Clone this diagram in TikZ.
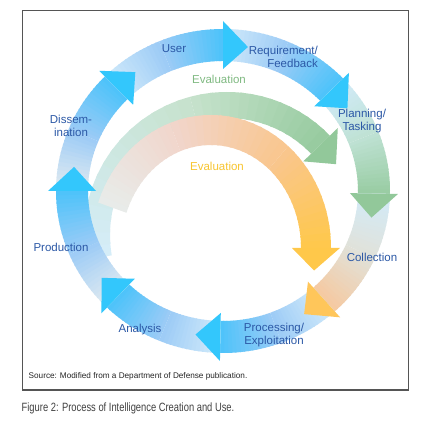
\documentclass[tikz,border=0pt]{standalone}
\usepackage{fontspec}
\setmainfont{Liberation Sans}
\usetikzlibrary{positioning}
\usepackage{xcolor}
\definecolor{ringA}{HTML}{D2EBFA}
\definecolor{rgray}{HTML}{E4ECF0}
\definecolor{ringB}{HTML}{9CCBF6}
\definecolor{ringC}{HTML}{4CC3FA}
\definecolor{headB}{HTML}{33C7FC}
\definecolor{ringG}{HTML}{BFE2D4}
\definecolor{ringGd}{HTML}{98CCA2}
\definecolor{headG}{HTML}{92C89A}
\definecolor{ringGy}{HTML}{E0E2DA}
\definecolor{ringO}{HTML}{F6C9A0}
\definecolor{headO}{HTML}{FFC65A}
\definecolor{gA}{HTML}{D6EDF9}
\definecolor{gB}{HTML}{C6E2CC}
\definecolor{gC}{HTML}{96CA9E}
\definecolor{oA}{HTML}{E8ECEA}
\definecolor{oB}{HTML}{F1D6CC}
\definecolor{oC}{HTML}{F9C68E}
\definecolor{oD}{HTML}{FFC84A}
\definecolor{lbl}{HTML}{2B58A6}
\definecolor{evg}{HTML}{80BA82}
\definecolor{evo}{HTML}{F8C530}
\definecolor{framec}{HTML}{555555}
% band piece by piece: rx,ry outer / rx,ry inner / from angle / to angle / from colour / to colour
\newcommand{\gradband}[8]{%
  \foreach \k in {0,...,14}{%
    \pgfmathsetmacro\angA{(#5)+((#6)-(#5))*\k/15}%
    \pgfmathsetmacro\angB{(#5)+((#6)-(#5))*min(\k+1.3,15)/15}%
    \pgfmathtruncatemacro\mixpc{100*(\k+0.5)/15}%
    \colorlet{bandcol}{#8!\mixpc!#7}%
    \fill[bandcol] (\angA:#1pt and #2pt) arc[start angle=\angA,end angle=\angB,x radius=#1pt,y radius=#2pt]
      -- (\angB:#3pt and #4pt) arc[start angle=\angB,end angle=\angA,x radius=#3pt,y radius=#4pt] -- cycle;
  }}

\begin{document}
\begin{tikzpicture}[x=1pt,y=1pt,
  lbl/.style={text=lbl,inner sep=0pt,font=\fontsize{11.5}{12.5}\selectfont},
  ev/.style={inner sep=0pt,font=\fontsize{11.5}{12.5}\selectfont}]
\useasboundingbox (0,0) rectangle (444,422);
\fill[white] (0,0) rectangle (444,422);

% inner evaluation arcs
\begin{scope}[shift={(227,187)}]
  \gradband{143}{143}{117}{117}{190}{105}{gA}{gB}
  \gradband{143}{143}{117}{117}{105}{44}{gB}{gC}
  \fill[headG] (44:154pt) -- (33:130pt) -- (44:106pt) -- cycle;
\end{scope}
\begin{scope}[shift={(211,174)}]
  \gradband{120}{133}{90}{103}{160}{110}{oA}{oB}
  \gradband{120}{133}{90}{103}{110}{50}{oB}{oC}
  \gradband{120}{133}{90}{103}{50}{0}{oC}{oD}
  \fill[oD] (129,0) -- (-11:105pt and 118pt) -- (81,0) -- cycle;
\end{scope}

% outer cycle
\begin{scope}[shift={(223,231)}]
  \foreach \sa/\sb/\ca/\cb/\cc in {180/135/rgray/ringB/ringC, 135/90/ringA/ringB/ringC,
      90/44/ringA/ringB/ringC, 44/-1/ringA/ringG/ringGd, -1/-48/ringA/ringGy/ringO,
      -48/-91/ringA/ringB/ringC, -91/-134/ringA/ringB/ringC, -134/-180/rgray/ringB/ringC}{
    \pgfmathsetmacro\segmid{(\sa+\sb)/2}
    \gradband{167}{162}{135}{130}{\sa}{\segmid}{\ca}{\cb}
    \gradband{167}{162}{135}{130}{\segmid}{\sb}{\cb}{\cc}
  }
  \foreach \hb/\hc [evaluate=\hb as \ht using \hb-9.5] in {135/headB, 90/headB, 44/headB,
      -1/headG, -48/headO, -91/headB, -134/headB, 180/headB}
    \fill[\hc] (\hb:175pt and 170pt) -- (\ht:151pt and 146pt) -- (\hb:127pt and 122pt) -- cycle;
\end{scope}

\node[lbl] (user) at (174,373) {User};
\node[lbl,align=right,anchor=east] (req) at (318,365) {Requirement/\\Feedback};
\node[lbl,align=center] (plan) at (362,301) {Planning/\\Tasking};
\node[lbl,align=center] (diss) at (71,296) {Dissem-\\ination};
\node[lbl] (prod) at (61,175) {Production};
\node[lbl] (coll) at (372,165) {Collection};
\node[lbl,align=center] (proc) at (274,87) {Processing/\\Exploitation};
\node[lbl] (anal) at (140,92) {Analysis};
\node[ev,text=evg] (evalg) at (219,343) {Evaluation};
\node[ev,text=evo] (evalo) at (217,256) {Evaluation};

\draw[framec,line width=1.2pt] (22.5,411.5) rectangle (408.5,32);
\node[anchor=west,inner sep=0pt,text=black!85,font=\fontsize{8.2}{9}\selectfont] (src) at (28.5,46)
  {Source: Modified from a Department of Defense publication.};
\node[anchor=west,inner sep=0pt,text=black!75,font=\fontsize{12}{13}\selectfont] (cap) at (21.5,14)
  {\scalebox{0.78}[1]{Figure 2: Process of Intelligence Creation and Use.}};
\end{tikzpicture}
\end{document}
